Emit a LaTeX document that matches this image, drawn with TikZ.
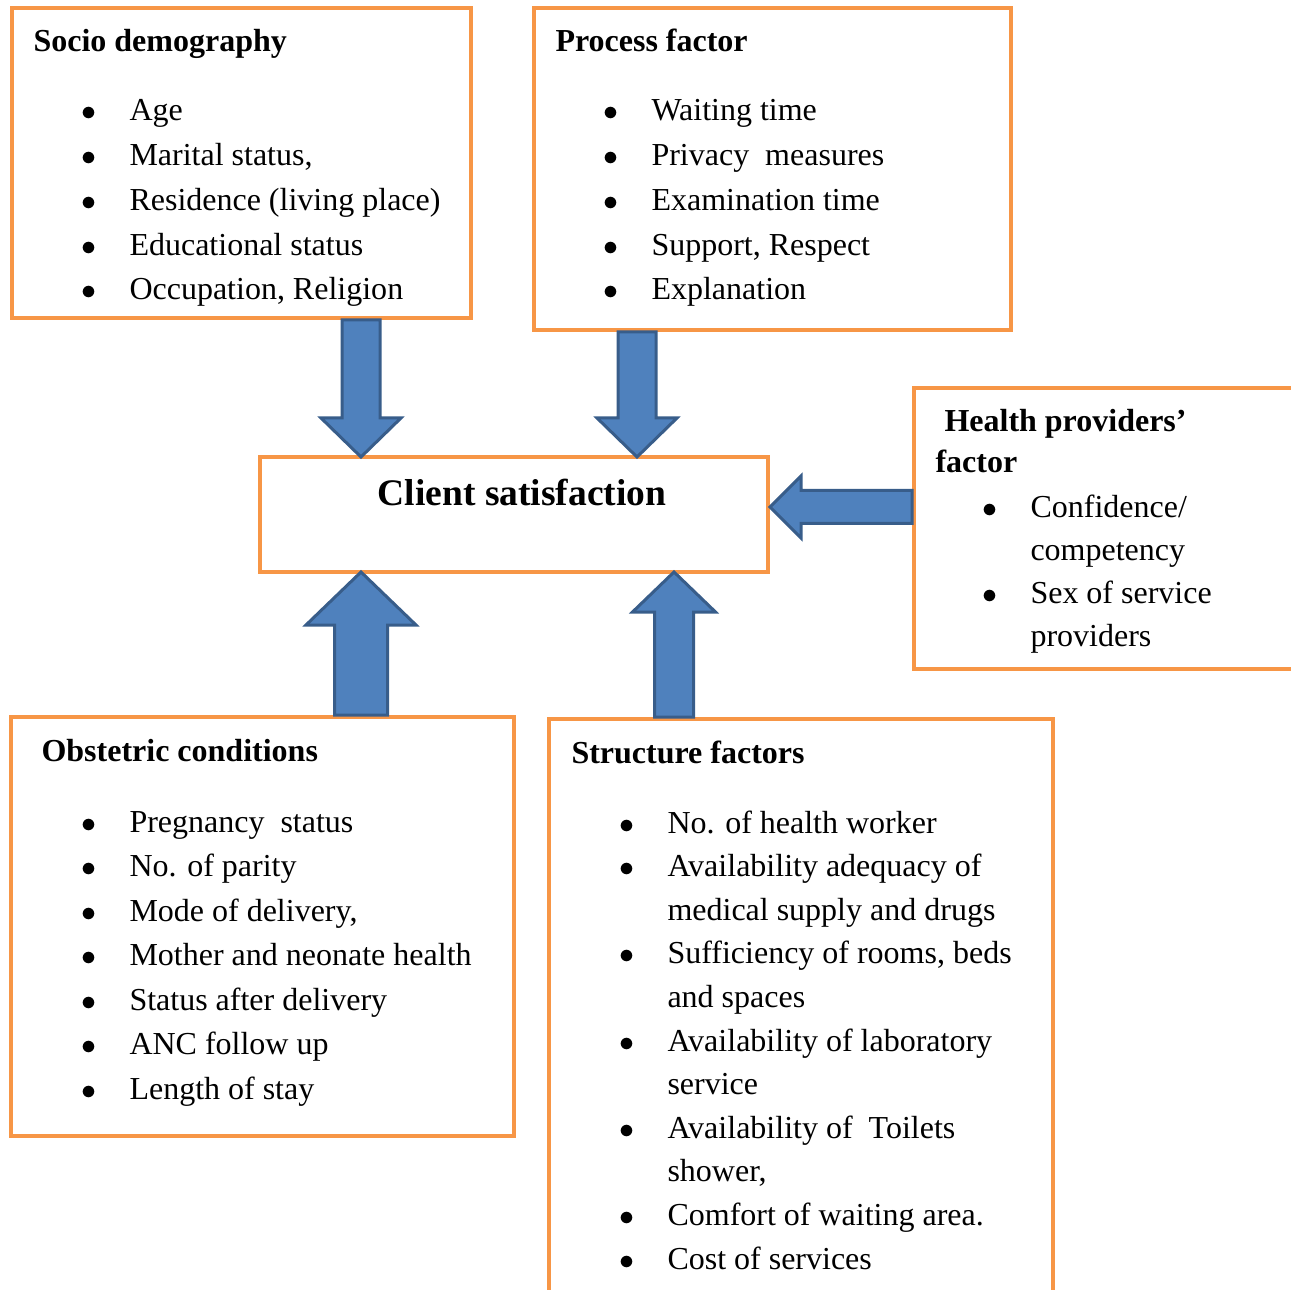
\documentclass[tikz,border=0pt]{standalone}
\usepackage{fontspec}
\setmainfont{Liberation Serif}
\usepackage{tikz}
\usetikzlibrary{positioning}
\usetikzlibrary{fit}
\usetikzlibrary{calc}
\definecolor{boxorange}{HTML}{F79646}
\definecolor{arrowblue}{HTML}{4F81BD}
\definecolor{arrowedge}{HTML}{385D8A}

\newcommand{\bl}{\makebox[16pt]{$\bullet$}}
% fat arrow: tail, tip, half shaft, half head, head length
\newcommand{\blockarr}[5]{%
  \coordinate (hd) at ($(#2)!#5!(#1)$);
  \draw[blk] ($(#1)!#3!90:(#2)$) -- ($(hd)!#3!90:(#2)$) -- ($(hd)!#4!90:(#2)$)
    -- (#2) -- ($(hd)!#4!-90:(#2)$) -- ($(hd)!#3!-90:(#2)$) -- ($(#1)!#3!-90:(#2)$) -- cycle;
}

\begin{document}
\begin{tikzpicture}[
            x = 0.4pt, y = -0.4pt, % pixel grid, y going down
            box/.style = {draw = boxorange, line width = 1.6pt, fill = white, inner sep = 0pt},
            blk/.style = {fill = arrowblue, draw = arrowedge, line width = 1.2pt, line join = miter},
            head/.style = {font = \bfseries\fontsize{12.8}{16.4}\selectfont, inner sep = 0pt, anchor = base west},
            items/.style = {font = \fontsize{12.8}{#1}\selectfont, inner sep = 0pt, anchor = base west}
        ]

        \useasboundingbox (0,0) rectangle (1291,1290);
        \clip (0,0) rectangle (1291,1290);

	% boxes
        \node[box, fit = {(12,8) (471,318)}] (socio) {};
        \node[box, fit = {(534,8) (1011,330)}] (process) {};
        \node[box, fit = {(260,457) (768,572)}] (client) {};
        \node[box, fit = {(914,388) (1296,669)}] (health) {};
        \node[box, fit = {(11,717) (514,1136)}] (obst) {};
        \node[box, fit = {(549,719) (1053,1296)}] (struct) {};

	% texts
        \node[head] (socioHead) at ($(socio.north west)+(23,46)$) {Socio demography};
        \node[items=17.9pt] (socioList) at ($(socio.north west)+(58,115)$) {%
          \begin{tabular}[t]{@{}c@{\hspace{8.4pt}}l@{}}
            \bl & Age\\
            \bl & Marital status,\\
            \bl & Residence (living place)\\
            \bl & Educational status\\
            \bl & Occupation, Religion
          \end{tabular}};

        \node[head] (processHead) at ($(process.north west)+(23,46)$) {Process factor};
        \node[items=17.9pt] (processList) at ($(process.north west)+(58,115)$) {%
          \begin{tabular}[t]{@{}c@{\hspace{8.4pt}}l@{}}
            \bl & Waiting time\\
            \bl & Privacy\ \ measures\\
            \bl & Examination time\\
            \bl & Support, Respect\\
            \bl & Explanation
          \end{tabular}};

        \node[anchor = base, inner sep = 0pt, font = \bfseries\fontsize{15}{18}\selectfont]
          (clientText) at ($(client.north)+(8,51)$) {Client satisfaction};

        \node[head] (healthHead) at ($(health.north west)+(23,46)$) {%
          \begin{tabular}[t]{@{}l@{}}
            \hspace{3.6pt}Health providers’\\
            factor
          \end{tabular}};
        \node[items=17.1pt] (healthList) at ($(health.north west)+(57,132)$) {%
          \begin{tabular}[t]{@{}c@{\hspace{8.4pt}}l@{}}
            \bl & Confidence/\\
                & competency\\
            \bl & Sex of service\\
                & providers
          \end{tabular}};

        \node[head] (obstHead) at ($(obst.north west)+(32,46)$) {Obstetric conditions};
        \node[items=17.8pt] (obstList) at ($(obst.north west)+(59,117)$) {%
          \begin{tabular}[t]{@{}c@{\hspace{8.4pt}}l@{}}
            \bl & Pregnancy\ \ status\\
            \bl & No. of parity\\
            \bl & Mode of delivery,\\
            \bl & Mother and neonate health\\
            \bl & Status after delivery\\
            \bl & ANC follow up\\
            \bl & Length of stay
          \end{tabular}};

        \node[head] (structHead) at ($(struct.north west)+(24,46)$) {Structure factors};
        \node[items=17.44pt] (structList) at ($(struct.north west)+(59,116)$) {%
          \begin{tabular}[t]{@{}c@{\hspace{8.4pt}}l@{}}
            \bl & No. of health worker\\
            \bl & Availability adequacy of\\
                & medical supply and drugs\\
            \bl & Sufficiency of rooms, beds\\
                & and spaces\\
            \bl & Availability of laboratory\\
                & service\\
            \bl & Availability of\ \ Toilets\\
                & shower,\\
            \bl & Comfort of waiting area.\\
            \bl & Cost of services
          \end{tabular}};

	% fat arrows into client satisfaction
        \coordinate (colA) at (361,0);
        \coordinate (colB) at (637,0);
        \coordinate (colC) at (674,0);
        \coordinate (rowD) at (0,507);

        \coordinate (t1) at (socio.south -| colA);
        \coordinate (p1) at ($(client.north -| colA)+(0,2)$);
        \blockarr{t1}{p1}{7.6pt}{16pt}{15.6pt}

        \coordinate (t2) at (process.south -| colB);
        \coordinate (p2) at ($(client.north -| colB)+(0,2)$);
        \blockarr{t2}{p2}{7.6pt}{16pt}{15.6pt}

        \coordinate (t3) at (obst.north -| colA);
        \coordinate (p3) at ($(client.south -| colA)+(0,-2)$);
        \blockarr{t3}{p3}{10.6pt}{22pt}{21.2pt}

        \coordinate (t4) at (struct.north -| colC);
        \coordinate (p4) at ($(client.south -| colC)+(0,-2)$);
        \blockarr{t4}{p4}{7.8pt}{16.6pt}{16pt}

        \coordinate (t5) at (health.west |- rowD);
        \coordinate (p5) at (client.east |- rowD);
        \blockarr{t5}{p5}{6.6pt}{12.4pt}{12.4pt}

  \end{tikzpicture}
\end{document}
